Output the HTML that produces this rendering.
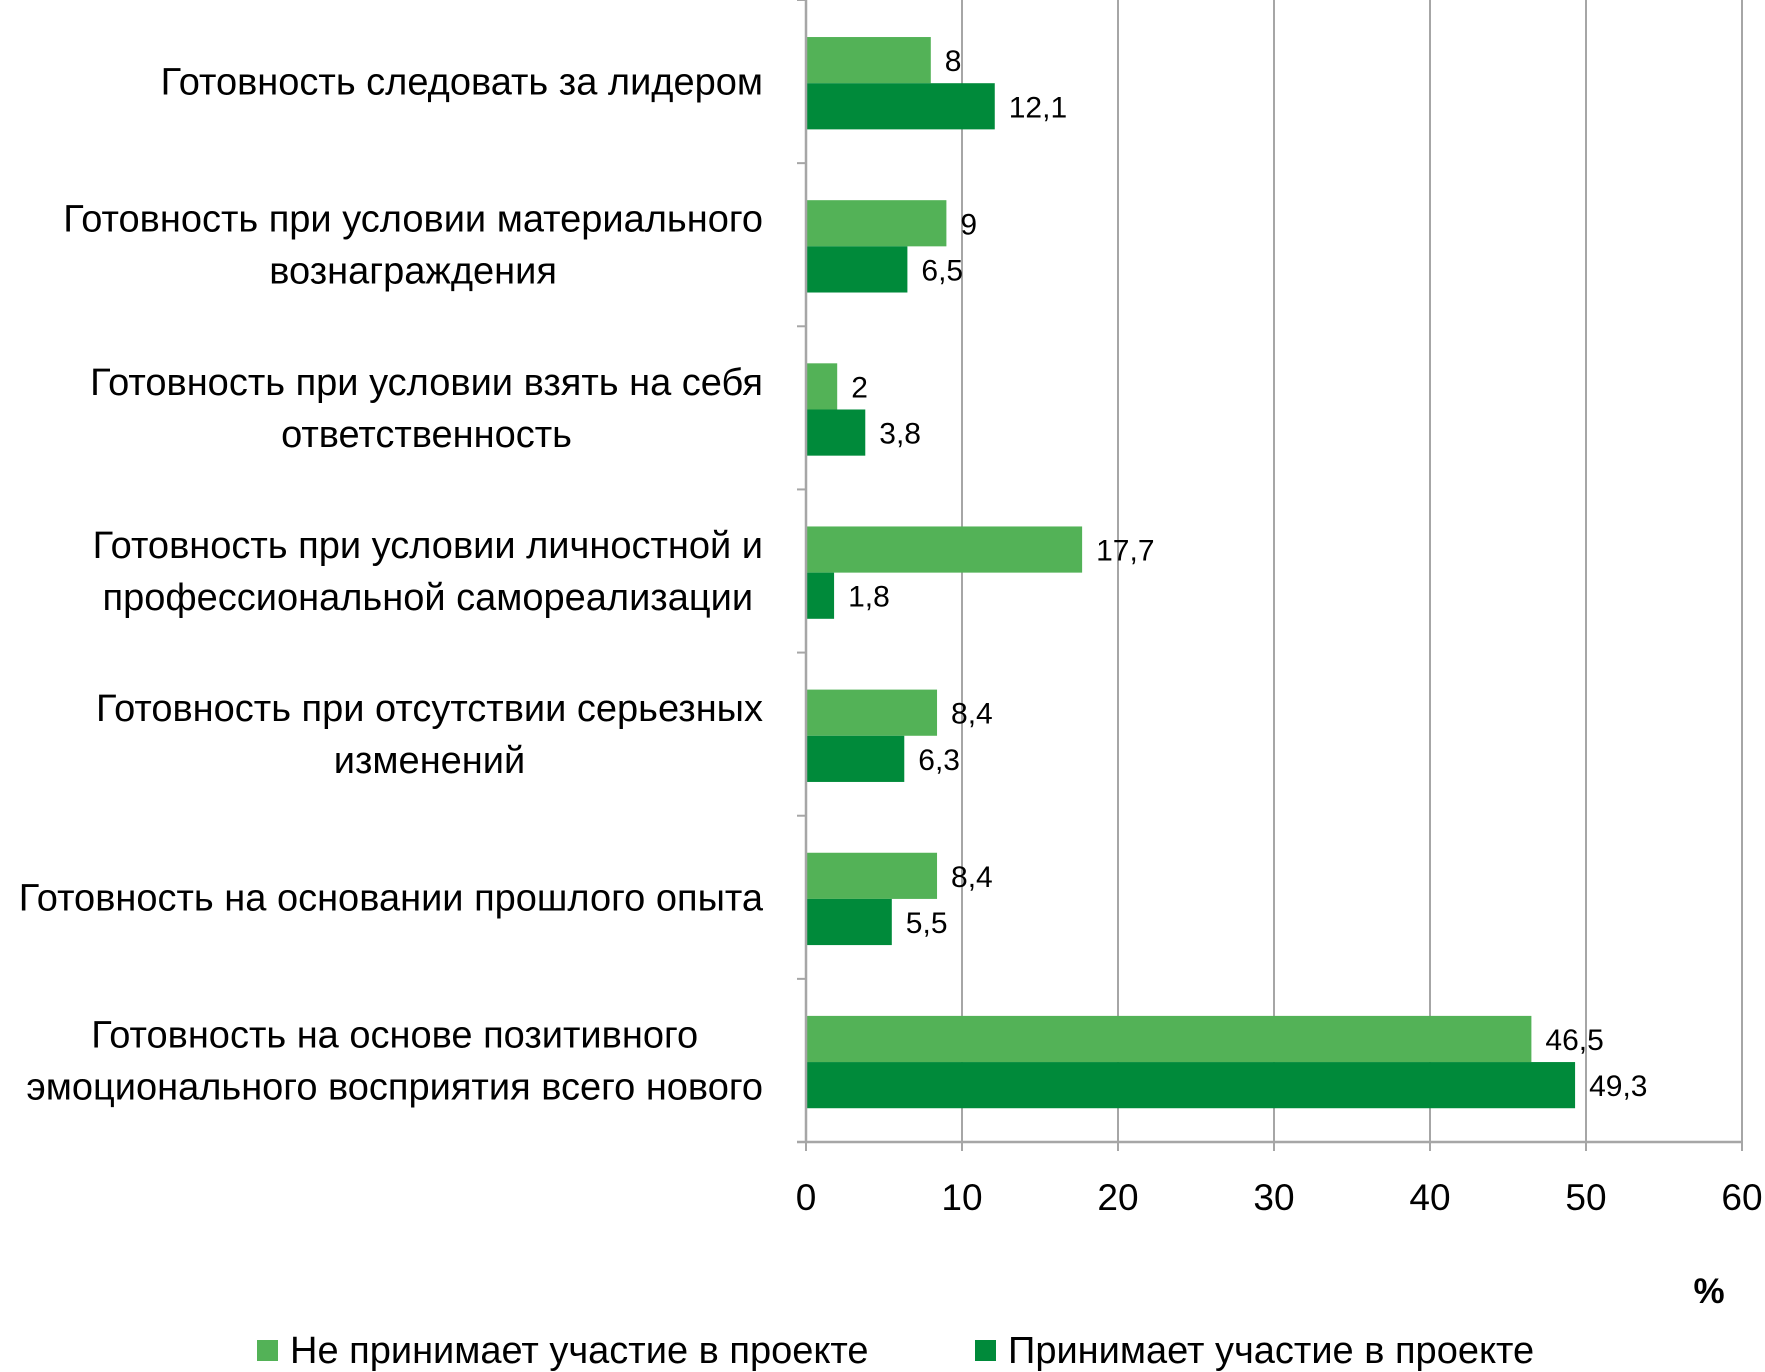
<!DOCTYPE html>
<html><head><meta charset="utf-8"><style>
html,body{margin:0;padding:0;background:#fff;}
svg{display:block;font-family:"Liberation Sans","DejaVu Sans",sans-serif;}
</style></head><body>
<svg id="chart" width="1765" height="1372" viewBox="0 0 1765 1372"></svg>
<script>
const categories=[
 ["Готовность следовать за лидером"],
 ["Готовность при условии материального","вознаграждения"],
 ["Готовность при условии взять на себя","ответственность"],
 ["Готовность при условии личностной и","профессиональной самореализации"],
 ["Готовность при отсутствии серьезных","изменений"],
 ["Готовность на основании прошлого опыта"],
 ["Готовность на основе позитивного","эмоционального восприятия всего нового"]
];
const notParticipating=[8,9,2,17.7,8.4,8.4,46.5];
const participating=[12.1,6.5,3.8,1.8,6.3,5.5,49.3];
const xTicks=[0,10,20,30,40,50,60];
const seriesNames=["Не принимает участие в проекте","Принимает участие в проекте"];

const svg=document.getElementById('chart');
const NS="http://www.w3.org/2000/svg";
const x0=806,x1=1742,yTop=0,yBot=1142,maxV=60;
const band=(yBot-yTop)/categories.length;
const xs=v=>x0+(x1-x0)*v/maxV;
const colors=["#53b257","#008a3a"];
function el(tag,attrs,parent){const e=document.createElementNS(NS,tag);for(const k in attrs)e.setAttribute(k,attrs[k]);(parent||svg).appendChild(e);return e;}
xTicks.forEach(t=>{
 if(t>0){const g=el('line',{x1:xs(t),x2:xs(t),y1:yTop,y2:yBot,stroke:'#a6a6a6','stroke-width':2});
 
 }
 const tk=el('line',{x1:xs(t),x2:xs(t),y1:yBot,y2:yBot+9,stroke:'#a6a6a6','stroke-width':2});
 
 
 const tl=el('text',{x:xs(t),y:yBot+68,'text-anchor':'middle','font-size':37,fill:'#000'});
 tl.textContent=t;
 
 
});
categories.forEach((c,i)=>{
 const top=yTop+i*band;
 const bh=band*0.283;
 const off=band*0.227;
 [notParticipating[i],participating[i]].forEach((v,s)=>{
  const y=top+off+s*bh;
  const r=el('rect',{x:x0,y:y,width:xs(v)-x0,height:bh,fill:colors[s]});
  
  
  const t=el('text',{x:xs(v)+14,y:y+bh/2+11,'font-size':30,fill:'#000'});
  t.textContent=String(v).replace('.',',');
  
  
 });
 const cy=top+band/2;
 const lab=el('text',{'font-size':38,fill:'#000'});
 
 
 const n=c.length;
 const spans=c.map((line,j)=>{
  const ts=el('tspan',{x:763,y:cy+13+(j-(n-1)/2)*52,'text-anchor':'end'},lab);
  ts.textContent=line;return ts;
 });
 let maxW=0;spans.forEach(s=>{maxW=Math.max(maxW,s.getComputedTextLength());});
 const mid=763-maxW/2;
 spans.forEach(s=>{s.setAttribute('x',mid);s.setAttribute('text-anchor','middle');});
 const tk=el('line',{x1:x0-9,x2:x0,y1:top,y2:top,stroke:'#a6a6a6','stroke-width':2});
 
 
});
const ya=el('line',{x1:x0,x2:x0,y1:yTop,y2:yBot,stroke:'#a6a6a6','stroke-width':2.5});


const yt=el('line',{x1:x0-9,x2:x0,y1:yBot,y2:yBot,stroke:'#a6a6a6','stroke-width':2});


const xa=el('line',{x1:x0-9,x2:x1,y1:yBot,y2:yBot,stroke:'#a6a6a6','stroke-width':2.5});


const pct=el('text',{x:1709,y:1303,'text-anchor':'middle','font-size':35,'font-weight':'bold',fill:'#000'});
pct.textContent='%';


const lx=[257,975];
seriesNames.forEach((nm,s)=>{
 const g=el('g',{});
 
 
 el('rect',{x:lx[s],y:1340,width:21,height:21,fill:colors[s]},g);
 const t=el('text',{x:lx[s]+33,y:1363,'font-size':38,fill:'#000'},g);
 t.textContent=nm;
});
</script>
</body></html>
